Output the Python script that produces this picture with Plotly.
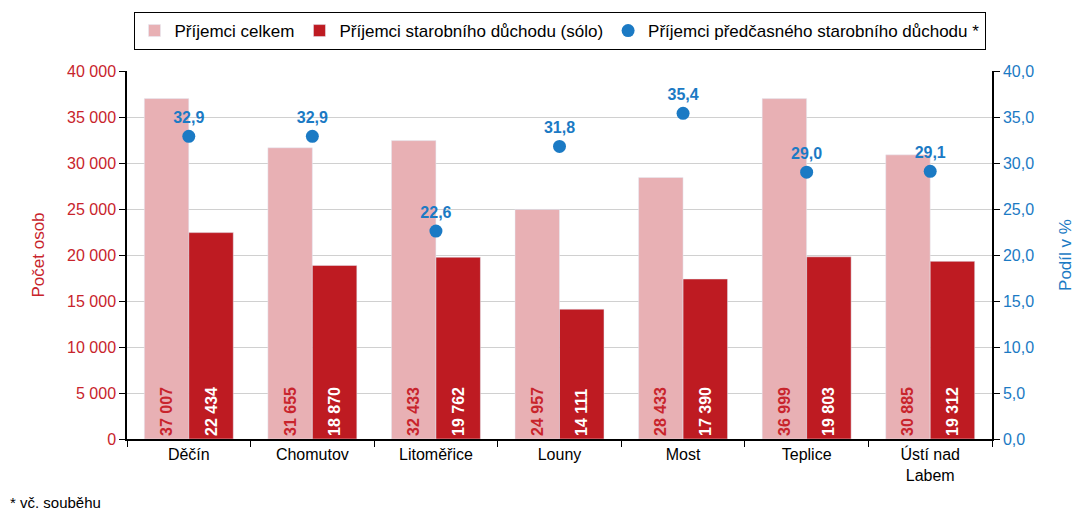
import plotly.graph_objects as go

okresy = ["Děčín", "Chomutov", "Litoměřice", "Louny", "Most", "Teplice", "Ústí nad<br>Labem"]
celkem = [37007, 31655, 32433, 24957, 28433, 36999, 30885]
solo = [22434, 18870, 19762, 14111, 17390, 19803, 19312]
predcasny = [32.9, 32.9, 22.6, 31.8, 35.4, 29.0, 29.1]

pink = "#E8B0B4"
red = "#BE1B22"
blue = "#1B7AC4"
font = "Liberation Sans, Arial"

fig = go.Figure()
fig.add_trace(go.Bar(x=okresy, y=celkem, name="Příjemci celkem", marker_color=pink,
                     texttemplate="%{y:,d}", textposition="inside", insidetextanchor="start",
                     textangle=-90,
                     textfont=dict(color="#C8242C", size=16, family=font, weight="bold")))
fig.add_trace(go.Bar(x=okresy, y=solo, name="Příjemci starobního důchodu (sólo)", marker_color=red,
                     texttemplate="%{y:,d}", textposition="inside", insidetextanchor="start",
                     textangle=-90,
                     textfont=dict(color="white", size=16, family=font, weight="bold")))
fig.add_trace(go.Scatter(x=okresy, y=predcasny, yaxis="y2", mode="markers+text",
                         name="Příjemci předčasného starobního důchodu *",
                         marker=dict(color=blue, size=13),
                         text=[f"{v:.1f}".replace(".", ",") for v in predcasny],
                         textposition="top center",
                         textfont=dict(color=blue, size=16, family=font, weight="bold")))

# page body has 8px margin, so the figure is a bit smaller than the window
fig.update_layout(
    width=1083, height=500,
    margin=dict(l=119, r=99, t=63, b=69, autoexpand=False),
    plot_bgcolor="white", paper_bgcolor="white",
    separators=", ",
    font=dict(family=font, size=16, color="black"),
    barmode="group", bargap=0.28, bargroupgap=0,
    legend=dict(orientation="h", x=0.5, xanchor="center", y=1.057, yanchor="bottom",
                bordercolor="black", borderwidth=1, font=dict(size=17),
                itemwidth=30, tracegroupgap=0),
    xaxis=dict(tickson="boundaries", ticks="outside", ticklen=6, tickcolor="black",
               showline=True, linecolor="black", linewidth=1.5, tickfont=dict(size=16)),
    yaxis=dict(range=[0, 40000], dtick=5000, tickformat=",d", ticks="outside", ticklen=6,
               tickcolor="black", showline=True, linecolor="black", linewidth=1.5,
               gridcolor="#D0D0D0", tickfont=dict(color="#C8242C", size=16),
               title=dict(text="Počet osob", font=dict(color="#C8242C", size=17), standoff=18)),
    yaxis2=dict(range=[0, 40], dtick=5, tickformat=".1f", overlaying="y", side="right",
                ticks="outside", ticklen=6, tickcolor="black", showline=True, linecolor="black",
                linewidth=1.5, showgrid=False, tickfont=dict(color=blue, size=16),
                title=dict(text="Podíl v %", font=dict(color=blue, size=17), standoff=26)),
    annotations=[dict(text="* vč. souběhu", xref="paper", yref="paper", x=-0.1376, y=-0.145,
                      xanchor="left", yanchor="top", showarrow=False, font=dict(size=15))],
)

fig.write_html("out.html")
